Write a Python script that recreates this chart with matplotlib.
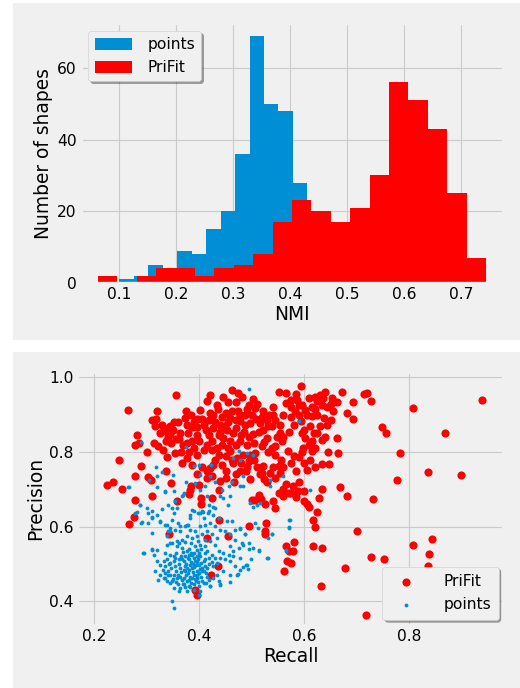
import numpy as np
import matplotlib
matplotlib.use("Agg")
import matplotlib.pyplot as plt
from matplotlib.patches import Rectangle

plt.style.use('fivethirtyeight')

# histogram counts (NMI per shape)
points_edges = np.linspace(0.100, 0.430, 14)
points_counts = [1, 2, 5, 3, 9, 8, 15, 20, 36, 69, 50, 48, 28]
prifit_edges = np.linspace(0.0622, 0.7437, 21)
prifit_counts = [2, 0, 2, 4, 4, 2, 4, 5, 8, 17, 23, 20, 17, 21, 30, 56, 51, 43, 25, 7]

# recall / precision per shape
prifit_rp = [
    (0.939, 0.940), (0.807, 0.918), (0.868, 0.851), (0.782, 0.797), (0.835, 0.746),
    (0.899, 0.738), (0.776, 0.724), (0.730, 0.674), (0.700, 0.588), (0.806, 0.552),
    (0.843, 0.568), (0.838, 0.527), (0.836, 0.494), (0.727, 0.519), (0.751, 0.513),
    (0.677, 0.488), (0.631, 0.441), (0.717, 0.364), (0.748, 0.866), (0.755, 0.851),
    (0.714, 0.955), (0.719, 0.958), (0.727, 0.936), (0.692, 0.934), (0.681, 0.904),
    (0.692, 0.889), (0.671, 0.960), (0.663, 0.934), (0.652, 0.945), (0.663, 0.839),
    (0.665, 0.797), (0.646, 0.800), (0.647, 0.768), (0.633, 0.768), (0.668, 0.706),
    (0.681, 0.683), (0.634, 0.702), (0.628, 0.677), (0.616, 0.619), (0.616, 0.547),
    (0.633, 0.543), (0.605, 0.661), (0.608, 0.653), (0.605, 0.753), (0.589, 0.788),
    (0.600, 0.696), (0.588, 0.696), (0.578, 0.710), (0.564, 0.690), (0.566, 0.715),
    (0.568, 0.802), (0.565, 0.547), (0.578, 0.534), (0.571, 0.534), (0.567, 0.507),
    (0.574, 0.503), (0.562, 0.482), (0.526, 0.588), (0.526, 0.581), (0.527, 0.610),
    (0.545, 0.650), (0.494, 0.603), (0.506, 0.672), (0.517, 0.675), (0.513, 0.686),
    (0.500, 0.672), (0.496, 0.727), (0.524, 0.728), (0.489, 0.748), (0.478, 0.748),
    (0.559, 0.681), (0.570, 0.690), (0.264, 0.912), (0.248, 0.778), (0.224, 0.711),
    (0.236, 0.721), (0.253, 0.701), (0.278, 0.735), (0.289, 0.762), (0.278, 0.672),
    (0.276, 0.625), (0.267, 0.607), (0.281, 0.846), (0.278, 0.820), (0.286, 0.824),
    (0.303, 0.732), (0.308, 0.726), (0.310, 0.683), (0.319, 0.909), (0.309, 0.887),
    (0.318, 0.889), (0.313, 0.824), (0.321, 0.815), (0.331, 0.806), (0.337, 0.748),
    (0.346, 0.717), (0.355, 0.954), (0.329, 0.873), (0.338, 0.855), (0.332, 0.864),
    (0.345, 0.848), (0.351, 0.880), (0.336, 0.829), (0.347, 0.824), (0.339, 0.788),
    (0.354, 0.797), (0.364, 0.851), (0.373, 0.891), (0.375, 0.909), (0.376, 0.873),
    (0.386, 0.868), (0.395, 0.868), (0.379, 0.851), (0.369, 0.820), (0.376, 0.824),
    (0.386, 0.829), (0.395, 0.846), (0.367, 0.771), (0.376, 0.784), (0.386, 0.766),
    (0.395, 0.793), (0.383, 0.699), (0.384, 0.708), (0.381, 0.688), (0.357, 0.668),
    (0.343, 0.579), (0.400, 0.712), (0.403, 0.677), (0.404, 0.661), (0.420, 0.954),
    (0.415, 0.938), (0.433, 0.927), (0.446, 0.947), (0.463, 0.967), (0.473, 0.958),
    (0.482, 0.949), (0.503, 0.943), (0.494, 0.927), (0.506, 0.918), (0.522, 0.911),
    (0.532, 0.900), (0.541, 0.900), (0.551, 0.960), (0.566, 0.958), (0.574, 0.940),
    (0.593, 0.976), (0.586, 0.940), (0.595, 0.927), (0.608, 0.945), (0.621, 0.949),
    (0.630, 0.954), (0.640, 0.960), (0.624, 0.936), (0.634, 0.927), (0.643, 0.922),
    (0.614, 0.922), (0.601, 0.913), (0.589, 0.900), (0.583, 0.909), (0.574, 0.920),
    (0.565, 0.931), (0.580, 0.873), (0.593, 0.882), (0.614, 0.896), (0.637, 0.891),
    (0.650, 0.887), (0.643, 0.873), (0.630, 0.869), (0.618, 0.851), (0.601, 0.838),
    (0.608, 0.820), (0.614, 0.829), (0.598, 0.811), (0.614, 0.802), (0.633, 0.833),
    (0.554, 0.873), (0.554, 0.851), (0.557, 0.829), (0.545, 0.793), (0.538, 0.811),
    (0.529, 0.838), (0.522, 0.860), (0.513, 0.855), (0.497, 0.878), (0.487, 0.873),
    (0.478, 0.882), (0.469, 0.887), (0.459, 0.891), (0.449, 0.869), (0.440, 0.873),
    (0.427, 0.864), (0.418, 0.846), (0.437, 0.846), (0.446, 0.837), (0.459, 0.829),
    (0.469, 0.820), (0.478, 0.829), (0.491, 0.820), (0.443, 0.820), (0.433, 0.811),
    (0.424, 0.806), (0.408, 0.806), (0.437, 0.793), (0.459, 0.802), (0.462, 0.780),
    (0.472, 0.784), (0.484, 0.793), (0.497, 0.793), (0.506, 0.797), (0.473, 0.909),
    (0.487, 0.900), (0.462, 0.911), (0.443, 0.895), (0.427, 0.900), (0.418, 0.887),
    (0.408, 0.873), (0.401, 0.913), (0.516, 0.878), (0.529, 0.887), (0.538, 0.869),
    (0.414, 0.748), (0.421, 0.757), (0.424, 0.735), (0.427, 0.766), (0.440, 0.723),
    (0.444, 0.766), (0.437, 0.699), (0.437, 0.619), (0.424, 0.677), (0.415, 0.570),
    (0.455, 0.574), (0.435, 0.494), (0.423, 0.471), (0.392, 0.431), (0.395, 0.416),
    (0.466, 0.721), (0.494, 0.776), (0.522, 0.762), (0.529, 0.721), (0.551, 0.762),
    (0.554, 0.744), (0.503, 0.848), (0.524, 0.828), (0.548, 0.840), (0.452, 0.858),
    (0.430, 0.880), (0.395, 0.890), (0.350, 0.860), (0.362, 0.835), (0.575, 0.770),
    (0.560, 0.760), (0.545, 0.730), (0.535, 0.745), (0.585, 0.750), (0.590, 0.720),
    (0.600, 0.770), (0.620, 0.810), (0.600, 0.860), (0.625, 0.900), (0.655, 0.910),
    (0.585, 0.955), (0.540, 0.920), (0.465, 0.850), (0.485, 0.855), (0.508, 0.888),
    (0.430, 0.780), (0.450, 0.750), (0.480, 0.770), (0.510, 0.760), (0.515, 0.740),
    (0.345, 0.870), (0.360, 0.880), (0.385, 0.900), (0.390, 0.880), (0.405, 0.890),
    (0.412, 0.860), (0.420, 0.905), (0.435, 0.915), (0.450, 0.905), (0.455, 0.935),
    (0.470, 0.935), (0.478, 0.900), (0.490, 0.915), (0.500, 0.900), (0.510, 0.930),
    (0.520, 0.895), (0.530, 0.870), (0.545, 0.885), (0.560, 0.900), (0.575, 0.895),
    (0.590, 0.925), (0.605, 0.900), (0.620, 0.915), (0.635, 0.945), (0.650, 0.930),
    (0.610, 0.870), (0.625, 0.850), (0.640, 0.840), (0.595, 0.850), (0.570, 0.855),
    (0.560, 0.840), (0.545, 0.815), (0.530, 0.800), (0.520, 0.815), (0.505, 0.825),
    (0.495, 0.840), (0.480, 0.845), (0.470, 0.865), (0.455, 0.880), (0.440, 0.855),
    (0.425, 0.830), (0.415, 0.820), (0.400, 0.830), (0.390, 0.812), (0.380, 0.800),
    (0.365, 0.800), (0.355, 0.835), (0.340, 0.840), (0.325, 0.850), (0.315, 0.870),
    (0.300, 0.800), (0.450, 0.790), (0.465, 0.770), (0.455, 0.810), (0.490, 0.760),
    (0.505, 0.780), (0.520, 0.745), (0.540, 0.760), (0.555, 0.780), (0.580, 0.790),
    (0.595, 0.800), (0.610, 0.780), (0.620, 0.760), (0.450, 0.730), (0.470, 0.740),
    (0.415, 0.730), (0.405, 0.760), (0.395, 0.740), (0.560, 0.700), (0.575, 0.690),
    (0.585, 0.680), (0.600, 0.670), (0.552, 0.690), (0.625, 0.640), (0.620, 0.600),
    (0.580, 0.560), (0.525, 0.660), (0.540, 0.670),
]

points_rp = [
    (0.494, 0.969), (0.589, 0.884), (0.374, 0.813), (0.289, 0.827), (0.267, 0.706),
    (0.318, 0.760), (0.329, 0.746), (0.319, 0.735), (0.305, 0.724), (0.334, 0.695),
    (0.350, 0.739), (0.351, 0.695), (0.367, 0.681), (0.370, 0.690), (0.354, 0.668),
    (0.341, 0.659), (0.329, 0.646), (0.319, 0.632), (0.310, 0.641), (0.310, 0.623),
    (0.300, 0.650), (0.288, 0.659), (0.278, 0.637), (0.289, 0.610), (0.303, 0.610),
    (0.326, 0.614), (0.335, 0.605), (0.345, 0.596), (0.364, 0.601), (0.376, 0.605),
    (0.383, 0.623), (0.389, 0.641), (0.402, 0.637), (0.408, 0.623), (0.418, 0.641),
    (0.427, 0.632), (0.437, 0.623), (0.453, 0.614), (0.462, 0.616), (0.478, 0.596),
    (0.487, 0.579), (0.468, 0.565), (0.459, 0.547), (0.446, 0.529), (0.465, 0.521),
    (0.478, 0.516), (0.489, 0.498), (0.494, 0.541), (0.513, 0.538), (0.529, 0.516),
    (0.538, 0.579), (0.570, 0.598), (0.572, 0.619), (0.565, 0.538), (0.611, 0.697),
    (0.559, 0.735), (0.535, 0.724), (0.535, 0.708), (0.510, 0.659), (0.503, 0.654),
    (0.503, 0.793), (0.491, 0.797), (0.475, 0.802), (0.465, 0.784), (0.478, 0.779),
    (0.423, 0.766), (0.421, 0.735), (0.429, 0.721), (0.440, 0.681), (0.446, 0.677),
    (0.459, 0.681), (0.454, 0.659), (0.443, 0.699), (0.456, 0.708), (0.462, 0.721),
    (0.478, 0.708), (0.484, 0.735), (0.411, 0.708), (0.402, 0.697), (0.392, 0.717),
    (0.375, 0.721), (0.389, 0.762), (0.399, 0.764), (0.402, 0.739), (0.414, 0.681),
    (0.418, 0.659), (0.427, 0.654), (0.405, 0.641),
    (0.294, 0.529), (0.319, 0.538), (0.310, 0.541), (0.338, 0.552), (0.348, 0.556),
    (0.357, 0.547), (0.335, 0.529), (0.345, 0.525), (0.354, 0.516), (0.367, 0.543),
    (0.376, 0.534), (0.386, 0.525), (0.395, 0.538), (0.402, 0.552), (0.411, 0.547),
    (0.421, 0.561), (0.430, 0.552), (0.437, 0.534), (0.440, 0.516), (0.434, 0.503),
    (0.427, 0.494), (0.414, 0.489), (0.405, 0.480), (0.395, 0.471), (0.386, 0.463),
    (0.376, 0.454), (0.367, 0.458), (0.357, 0.463), (0.351, 0.471), (0.341, 0.480),
    (0.335, 0.494), (0.332, 0.507), (0.345, 0.503), (0.354, 0.494), (0.364, 0.489),
    (0.373, 0.480), (0.383, 0.498), (0.392, 0.507), (0.399, 0.498), (0.408, 0.507),
    (0.418, 0.516), (0.411, 0.529), (0.402, 0.521), (0.389, 0.516), (0.380, 0.512),
    (0.370, 0.507), (0.361, 0.512), (0.351, 0.507), (0.338, 0.512), (0.326, 0.498),
    (0.319, 0.507), (0.313, 0.525), (0.316, 0.480), (0.326, 0.471), (0.335, 0.463),
    (0.345, 0.449), (0.351, 0.436), (0.361, 0.427), (0.370, 0.445), (0.380, 0.440),
    (0.389, 0.445), (0.399, 0.440), (0.408, 0.449), (0.418, 0.458), (0.427, 0.463),
    (0.437, 0.454), (0.440, 0.445), (0.421, 0.440), (0.402, 0.427), (0.389, 0.431),
    (0.376, 0.427), (0.364, 0.436), (0.348, 0.454), (0.338, 0.454), (0.332, 0.463),
    (0.322, 0.458), (0.348, 0.400), (0.351, 0.382), (0.399, 0.418), (0.420, 0.440),
    (0.434, 0.471), (0.446, 0.480), (0.459, 0.471), (0.472, 0.471), (0.478, 0.485),
    (0.491, 0.498), (0.468, 0.494), (0.459, 0.507), (0.449, 0.512), (0.456, 0.525),
    (0.465, 0.534), (0.475, 0.543), (0.481, 0.556), (0.434, 0.570), (0.424, 0.579),
    (0.414, 0.588), (0.405, 0.579), (0.395, 0.574), (0.386, 0.570), (0.376, 0.574),
    (0.367, 0.565), (0.357, 0.561), (0.338, 0.574), (0.345, 0.588), (0.354, 0.592),
    (0.364, 0.588), (0.373, 0.601), (0.383, 0.592), (0.392, 0.588), (0.402, 0.601),
    (0.411, 0.605), (0.421, 0.610), (0.430, 0.601), (0.440, 0.592), (0.449, 0.588),
    (0.459, 0.579), (0.468, 0.592), (0.484, 0.552), (0.494, 0.556), (0.503, 0.543),
    (0.372, 0.495), (0.381, 0.485), (0.390, 0.492), (0.396, 0.482), (0.385, 0.505),
    (0.375, 0.470), (0.366, 0.478), (0.392, 0.460), (0.404, 0.465), (0.410, 0.495),
    (0.395, 0.520), (0.384, 0.530), (0.372, 0.522), (0.362, 0.500), (0.356, 0.480),
    (0.346, 0.488), (0.398, 0.452), (0.412, 0.475), (0.380, 0.456), (0.368, 0.446),
    (0.265, 0.707), (0.320, 0.707), (0.335, 0.694), (0.369, 0.686), (0.288, 0.659),
    (0.282, 0.640), (0.303, 0.637), (0.310, 0.627), (0.291, 0.613), (0.326, 0.613),
    (0.339, 0.605), (0.348, 0.619), (0.351, 0.637), (0.348, 0.651), (0.358, 0.651),
    (0.360, 0.610), (0.383, 0.632), (0.386, 0.645), (0.398, 0.637), (0.407, 0.640),
    (0.417, 0.637), (0.430, 0.651), (0.379, 0.605), (0.341, 0.587), (0.345, 0.557),
    (0.310, 0.584), (0.293, 0.530), (0.310, 0.538),
    (0.484, 0.710), (0.497, 0.664), (0.516, 0.664), (0.506, 0.611), (0.512, 0.597),
    (0.478, 0.595), (0.487, 0.579), (0.531, 0.570), (0.539, 0.579), (0.571, 0.619),
    (0.571, 0.597), (0.514, 0.536), (0.531, 0.517), (0.565, 0.536), (0.499, 0.514),
    (0.484, 0.493), (0.493, 0.487), (0.474, 0.474), (0.459, 0.452), (0.440, 0.444),
    (0.360, 0.470), (0.370, 0.462), (0.378, 0.475), (0.388, 0.478), (0.400, 0.475),
    (0.406, 0.490), (0.395, 0.505), (0.378, 0.515), (0.365, 0.520), (0.355, 0.530),
    (0.368, 0.532), (0.380, 0.540), (0.392, 0.548), (0.404, 0.540), (0.414, 0.535),
    (0.424, 0.525), (0.430, 0.515), (0.425, 0.505), (0.418, 0.500), (0.410, 0.512),
    (0.385, 0.448), (0.395, 0.462), (0.372, 0.438), (0.360, 0.445), (0.350, 0.460),
    (0.340, 0.470), (0.330, 0.485), (0.342, 0.500), (0.352, 0.520), (0.362, 0.555),
    (0.372, 0.560), (0.385, 0.555), (0.398, 0.562), (0.410, 0.565),
    (0.377, 0.490), (0.386, 0.488), (0.393, 0.497), (0.402, 0.487), (0.408, 0.482),
    (0.389, 0.470), (0.382, 0.466), (0.371, 0.485), (0.363, 0.466), (0.398, 0.512),
    (0.404, 0.503), (0.388, 0.500), (0.380, 0.523), (0.390, 0.530), (0.400, 0.530),
    (0.406, 0.455), (0.415, 0.466), (0.413, 0.448), (0.383, 0.438), (0.393, 0.453),
    (0.356, 0.452), (0.344, 0.470), (0.334, 0.476), (0.375, 0.500), (0.367, 0.512),
]

blue = '#008fd5'
red = '#ff0000'

fig = plt.figure(figsize=(6.5, 8.6), dpi=80, facecolor='white')
# two grey panels like the original composite
fig.patches.append(Rectangle((0.025, 0.506), 0.975, 0.4896, transform=fig.transFigure,
                             facecolor='#f0f0f0', edgecolor='none', zorder=-10))
fig.patches.append(Rectangle((0.025, 0.0), 0.975, 0.4885, transform=fig.transFigure,
                             facecolor='#f0f0f0', edgecolor='none', zorder=-10))

ax1 = fig.add_axes([0.155, 0.589, 0.813, 0.377])
ax1.hist(points_edges[:-1], bins=points_edges, weights=points_counts, color=blue, label='points')
ax1.hist(prifit_edges[:-1], bins=prifit_edges, weights=prifit_counts, color=red, label='PriFit')
ax1.set_xlim(0.032, 0.774)
ax1.set_xticks([0.1, 0.2, 0.3, 0.4, 0.5, 0.6, 0.7])
ax1.set_yticks([0, 20, 40, 60])
ax1.set_xlabel('NMI', labelpad=3)
ax1.set_ylabel('Number of shapes')
ax1.legend(loc='upper left', shadow=True, handlelength=2.4, handleheight=0.85,
           handletextpad=1.0)

ax2 = fig.add_axes([0.149, 0.092, 0.819, 0.368])
prifit_rp = np.array(prifit_rp)
points_rp = np.array(points_rp)
ax2.scatter(prifit_rp[:, 0], prifit_rp[:, 1], s=54, color=red, linewidths=0, label='PriFit')
ax2.scatter(points_rp[:, 0], points_rp[:, 1], s=12, color=blue, linewidths=0, label='points')
ax2.set_xlim(0.168, 0.979)
ax2.set_ylim(0.337, 1.016)
ax2.set_xticks([0.2, 0.4, 0.6, 0.8])
ax2.set_yticks([0.4, 0.6, 0.8, 1.0])
ax2.set_xlabel('Recall', labelpad=3)
ax2.set_ylabel('Precision')
ax2.legend(loc='lower right', shadow=True, borderaxespad=0.3, handletextpad=1.4,
           borderpad=0.5)

fig.savefig('out.png', dpi=80, facecolor='white')
